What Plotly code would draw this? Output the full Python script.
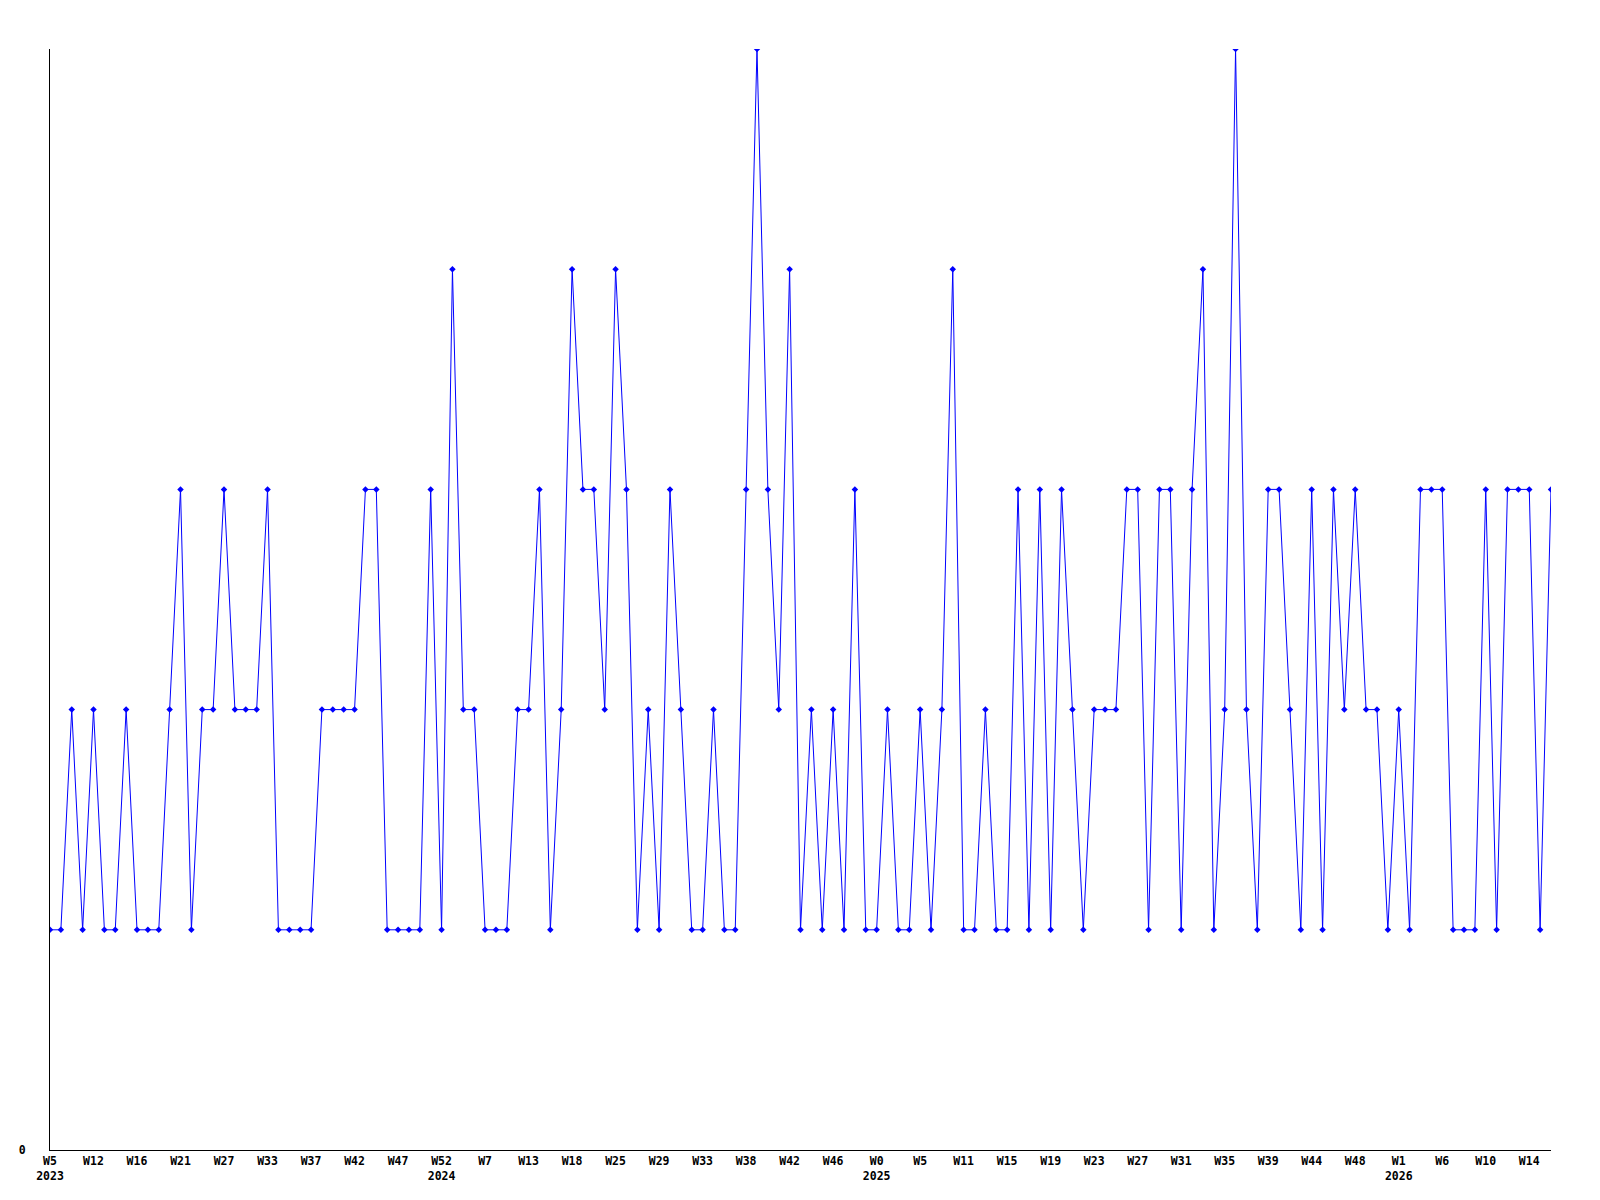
import plotly.graph_objects as go

# Weekly series values
values = [
    1, 1, 2, 1, 2, 1, 1, 2, 1, 1,
    1, 2, 3, 1, 2, 2, 3, 2, 2, 2,
    3, 1, 1, 1, 1, 2, 2, 2, 2, 3,
    3, 1, 1, 1, 1, 3, 1, 4, 2, 2,
    1, 1, 1, 2, 2, 3, 1, 2, 4, 3,
    3, 2, 4, 3, 1, 2, 1, 3, 2, 1,
    1, 2, 1, 1, 3, 5, 3, 2, 4, 1,
    2, 1, 2, 1, 3, 1, 1, 2, 1, 1,
    2, 1, 2, 4, 1, 1, 2, 1, 1, 3,
    1, 3, 1, 3, 2, 1, 2, 2, 2, 3,
    3, 1, 3, 3, 1, 3, 4, 1, 2, 5,
    2, 1, 3, 3, 2, 1, 3, 1, 3, 2,
    3, 2, 2, 1, 2, 1, 3, 3, 3, 1,
    1, 1, 3, 1, 3, 3, 3, 1, 3,
]

# Tick labels (one every 4 points)
week_labels = [
    "W5", "W12", "W16", "W21", "W27", "W33", "W37", "W42", "W47", "W52",
    "W7", "W13", "W18", "W25", "W29", "W33", "W38", "W42", "W46", "W0",
    "W5", "W11", "W15", "W19", "W23", "W27", "W31", "W35", "W39", "W44",
    "W48", "W1", "W6", "W10", "W14",
]
year_labels = {0: "2023", 9: "2024", 19: "2025", 31: "2026"}

x = list(range(len(values)))
tick_step = 4
tickvals = [i * tick_step for i in range(len(week_labels))]
ticktext = [
    lbl + ("<br>" + year_labels[k] if k in year_labels else "")
    for k, lbl in enumerate(week_labels)
]

font = dict(family="DejaVu Sans Mono", size=11.5, color="black", weight="bold")

fig = go.Figure()
fig.add_trace(go.Scatter(
    x=x, y=values, mode="lines+markers",
    line=dict(color="#0000FF", width=1),
    marker=dict(symbol="diamond", size=5, color="#0000FF"),
    showlegend=False,
))

# page body has an 8px default margin, so the figure is sized/offset to compensate
fig.update_layout(
    width=1592, height=1192,
    margin=dict(l=42, r=49, t=41, b=50, autoexpand=False),
    paper_bgcolor="white", plot_bgcolor="white",
    font=font,
)
fig.update_xaxes(
    range=[0, len(values) - 1],
    tickmode="array", tickvals=tickvals, ticktext=ticktext,
    showgrid=False, zeroline=False,
    showline=True, linecolor="black", linewidth=1,
    ticks="", tickangle=0, tickfont=font,
)
fig.update_yaxes(
    range=[0, 5],
    tickmode="array", tickvals=[0], ticktext=["0"],
    showgrid=False, zeroline=False,
    showline=True, linecolor="black", linewidth=1,
    ticks="", ticklabelstandoff=21, tickfont=font,
)

fig.write_html("out.html")
